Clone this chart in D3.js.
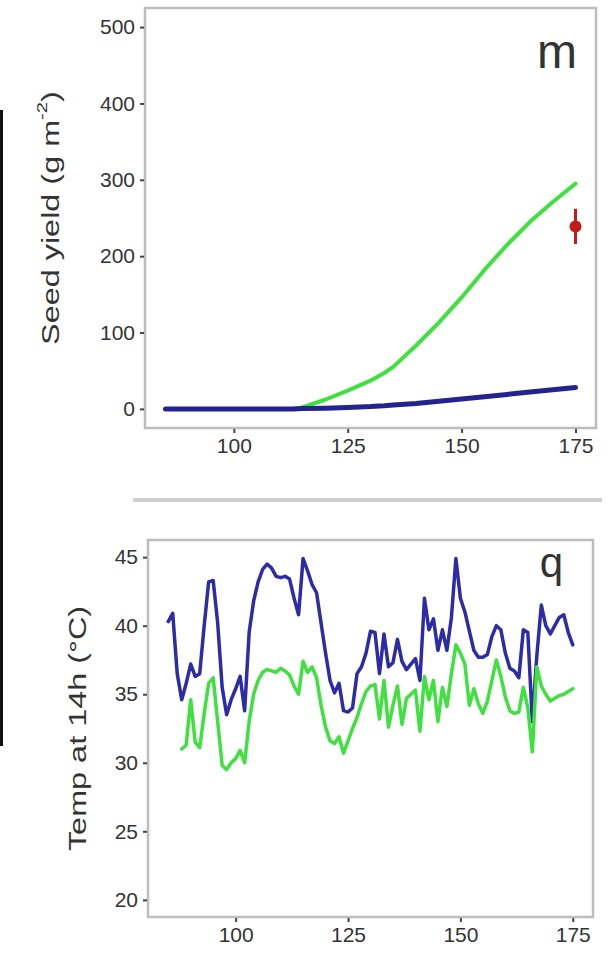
<!DOCTYPE html>
<html>
<head>
<meta charset="utf-8">
<script src="https://cdn.jsdelivr.net/npm/d3@7"></script>
<style>
    body { margin: 0; background: #fff; }
    svg { display: block; font-family: "Liberation Sans", Arial, sans-serif; }
</style>
</head>
<body>
<div id="chart"></div>
<script>

// ---- data ----
const yield_days = [85, 90, 95, 100, 105, 110, 113, 115, 120, 125, 130, 133, 135, 140, 145, 150, 155, 160, 165, 170, 175];
const yield_green = [0, 0, 0, 0, 0, 0, 0, 2, 12, 24, 37, 47, 55, 83, 113, 146, 182, 215, 245, 271, 295];
const yield_blue = [0, 0, 0, 0, 0, 0, 0, 0.5, 1, 2, 3, 4, 5, 7, 10, 13, 16, 19, 22, 25, 28];

const obs_day = 175;
const obs_yield = 239;
const obs_low = 216;
const obs_high = 262;

const temp_days_blue = d3.range(85, 176);
const temp_blue = [
    40.3, 40.9, 36.5, 34.6, 35.8, 37.2, 36.3, 36.5, 40.0, 43.2,
    43.3, 40.2, 35.5, 33.5, 34.6, 35.4, 36.3, 33.8, 39.5, 41.8,
    43.2, 44.1, 44.5, 44.2, 43.6, 43.5, 43.6, 43.4, 42.0, 40.8,
    44.9, 44.0, 43.0, 42.4, 40.2, 38.0, 36.0, 35.1, 35.8, 33.8,
    33.7, 34.0, 36.5, 37.0, 38.0, 39.6, 39.5, 36.5, 39.4, 37.0,
    37.3, 39.0, 37.4, 36.8, 37.2, 37.6, 36.0, 42.0, 39.7, 40.5,
    38.2, 39.7, 38.2, 40.6, 44.9, 42.0, 41.0, 39.6, 38.2, 37.7,
    37.7, 37.9, 39.2, 40.0, 39.7, 38.0, 36.9, 36.7, 36.2, 39.7,
    39.5, 33.0, 37.8, 41.5, 40.0, 39.4, 40.0, 40.6, 40.8, 39.5,
    38.6
];

const temp_days_green = d3.range(88, 176);
const temp_green = [
    31.0, 31.3, 34.6, 31.5, 31.1, 33.6, 35.8, 36.2, 33.0, 29.8,
    29.5, 30.0, 30.3, 30.9, 30.0, 33.0, 35.0, 36.0, 36.6, 36.8,
    36.7, 36.6, 36.9, 36.7, 36.4, 35.6, 35.0, 37.4, 36.6, 37.0,
    36.2, 34.2, 32.6, 31.6, 31.4, 31.9, 30.7, 31.6, 32.5, 33.3,
    34.3, 35.2, 35.6, 35.7, 33.2, 36.0, 32.6, 34.2, 35.6, 32.8,
    34.7, 35.0, 35.3, 32.3, 36.3, 34.6, 36.0, 33.0, 35.5, 34.1,
    36.5, 38.6, 38.0, 37.2, 34.2, 35.4, 34.3, 33.6, 34.5, 36.0,
    37.5, 36.3, 34.8, 33.8, 33.6, 33.7, 35.5, 34.0, 30.8, 37.0,
    35.6, 35.0, 34.5, 34.7, 34.9, 35.0, 35.2, 35.4
];

const x_ticks = [100, 125, 150, 175];
const yield_ticks = [0, 100, 200, 300, 400, 500];
const temp_ticks = [20, 25, 30, 35, 40, 45];

// ---- layout ----
const full_width = 610;
const full_height = 954;

const green_color = "#3fe03f";
const blue_color = "#2c2ca8";
const border_color = "#bdbdbd";
const text_color = "#333";

let svg = d3.select("#chart")
    .append("svg")
    .attr("width", full_width)
    .attr("height", full_height);

// bits of neighbouring panels that show in the cropped figure
svg.append("rect")
    .attr("x", 0).attr("y", 110)
    .attr("width", 3).attr("height", 636)
    .attr("fill", "#111");

svg.append("line")
    .attr("x1", 133).attr("x2", 602)
    .attr("y1", 500).attr("y2", 500)
    .attr("stroke", "#cfcfcf")
    .attr("stroke-width", 4);

function drawPanel(box, y_domain, y_ticks, y_title, tag) {

    let x = d3.scaleLinear()
        .domain([80.5, 179.5])
        .range([box.left, box.right]);

    let y = d3.scaleLinear()
        .domain(y_domain)
        .range([box.bottom, box.top]);

    let g = svg.append("g");

    g.append("rect")
        .attr("x", box.left)
        .attr("y", box.top)
        .attr("width", box.right - box.left)
        .attr("height", box.bottom - box.top)
        .attr("fill", "#fff")
        .attr("stroke", border_color)
        .attr("stroke-width", 2.5);

    let x_axis = g.append("g")
        .attr("transform", "translate(0," + (box.bottom + 1) + ")")
        .call(d3.axisBottom(x)
            .tickValues(x_ticks)
            .tickSize(4)
            .tickPadding(5)
            .tickFormat(d3.format("d")));

    let y_axis = g.append("g")
        .attr("transform", "translate(" + (box.left - 1) + ",0)")
        .call(d3.axisLeft(y)
            .tickValues(y_ticks)
            .tickSize(4)
            .tickPadding(5)
            .tickFormat(d3.format("d")));

    [x_axis, y_axis].forEach(function (a) {
        a.select(".domain").remove();
        a.selectAll(".tick line")
            .attr("stroke", "#444")
            .attr("stroke-width", 2);
        a.selectAll(".tick text")
            .attr("fill", text_color)
            .style("font-size", "21px");
    });

    g.append("text")
        .attr("transform", "translate(" + y_title.x + "," + ((box.top + box.bottom) / 2) + ") rotate(-90) scale(1.35,1)")
        .attr("text-anchor", "middle")
        .attr("dominant-baseline", "middle")
        .attr("fill", text_color)
        .style("font-size", "24px")
        .call(y_title.write);

    g.append("text")
        .attr("x", tag.x)
        .attr("y", tag.y)
        .attr("text-anchor", "end")
        .attr("fill", "#333")
        .style("font-size", tag.size + "px")
        .text(tag.text);

    return {g: g, x: x, y: y};
}

function addLine(panel, days, values, color, width) {
    let line = d3.line()
        .x((d, i) => panel.x(days[i]))
        .y(d => panel.y(d));

    panel.g.append("path")
        .attr("fill", "none")
        .attr("stroke", color)
        .attr("stroke-width", width)
        .attr("stroke-linejoin", "round")
        .attr("stroke-linecap", "round")
        .attr("d", line(values));
}

// ---- top panel: seed yield ----
let top_panel = drawPanel(
    {left: 145, right: 596, top: 8, bottom: 428},
    [-25, 525],
    yield_ticks,
    {x: 52, write: function (t) {
        t.append("tspan").text("Seed yield (g m");
        t.append("tspan").attr("dy", -9).style("font-size", "15px").text("-2");
        t.append("tspan").attr("dy", 9).text(")");
    }},
    {text: "m", x: 577, y: 68, size: 48}
);

addLine(top_panel, yield_days, yield_green, green_color, 4);
addLine(top_panel, yield_days, yield_blue, "#23238f", 5);

top_panel.g.append("line")
    .attr("x1", top_panel.x(obs_day)).attr("x2", top_panel.x(obs_day))
    .attr("y1", top_panel.y(obs_low)).attr("y2", top_panel.y(obs_high))
    .attr("stroke", "#c41a1a")
    .attr("stroke-width", 3);

top_panel.g.append("circle")
    .attr("cx", top_panel.x(obs_day))
    .attr("cy", top_panel.y(obs_yield))
    .attr("r", 6)
    .attr("fill", "#c41a1a");

// ---- bottom panel: temperature ----
let temp_panel = drawPanel(
    {left: 148, right: 593, top: 540, bottom: 917},
    [18.75, 46.25],
    temp_ticks,
    {x: 80, write: function (t) {
        t.text("Temp at 14h (\u00b0C)");
    }},
    {text: "q", x: 563, y: 577, size: 42}
);

addLine(temp_panel, temp_days_blue, temp_blue, blue_color, 3.5);
addLine(temp_panel, temp_days_green, temp_green, green_color, 3.5);

</script>
</body>
</html>
